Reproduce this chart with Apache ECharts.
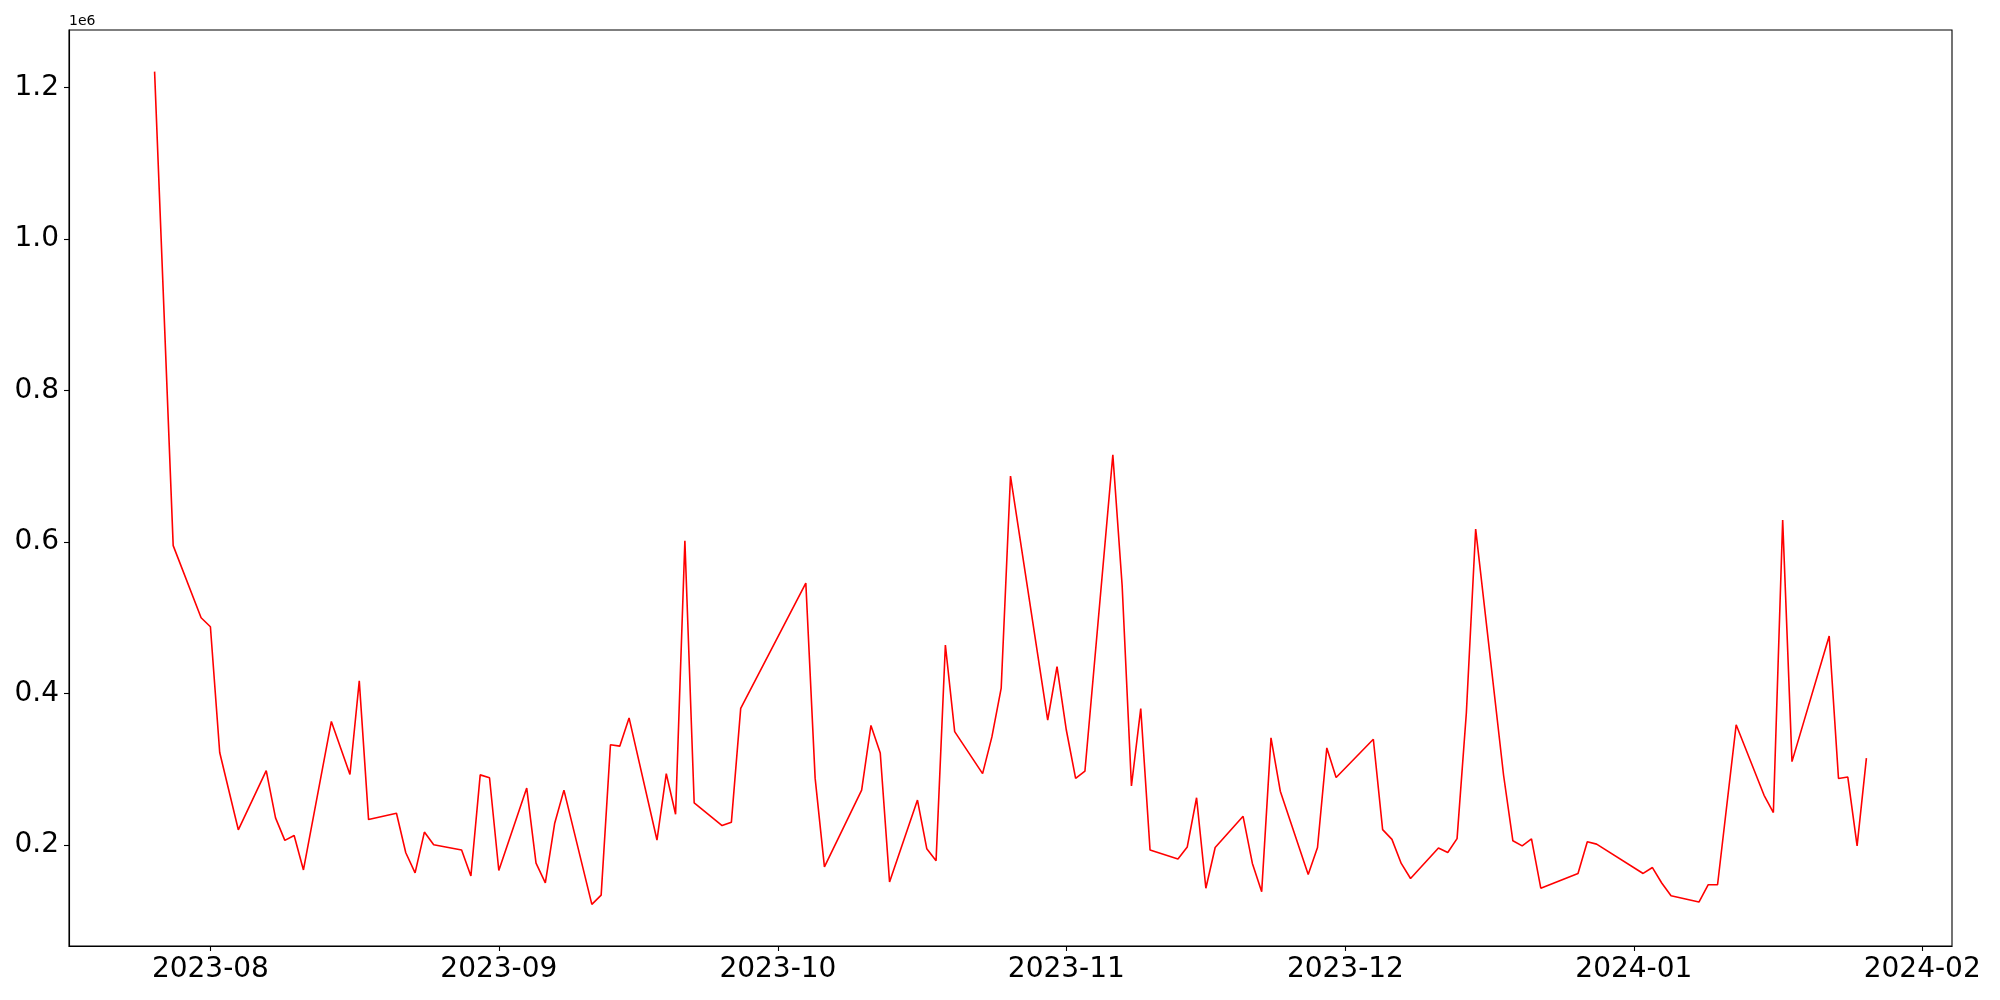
<!DOCTYPE html>
<html>
<head>
<meta charset="utf-8">
<script src="https://cdn.jsdelivr.net/npm/echarts@6/dist/echarts.min.js"></script>
<style>html,body{margin:0;padding:0;background:#fff}#c{width:2000px;height:1000px}</style>
</head>
<body>
<div id="c"></div>
<script>
const dates = [
 '2023-07-26','2023-07-28','2023-07-31','2023-08-01','2023-08-02','2023-08-04',
 '2023-08-07','2023-08-08','2023-08-09','2023-08-10','2023-08-11',
 '2023-08-14','2023-08-16','2023-08-17','2023-08-18',
 '2023-08-21','2023-08-22','2023-08-23','2023-08-24','2023-08-25',
 '2023-08-28','2023-08-29','2023-08-30','2023-08-31','2023-09-01',
 '2023-09-04','2023-09-05','2023-09-06','2023-09-07','2023-09-08',
 '2023-09-11','2023-09-12','2023-09-13','2023-09-14','2023-09-15',
 '2023-09-18','2023-09-19','2023-09-20','2023-09-21','2023-09-22',
 '2023-09-25','2023-09-26','2023-09-27',
 '2023-10-04','2023-10-05','2023-10-06',
 '2023-10-10','2023-10-11','2023-10-12','2023-10-13',
 '2023-10-16','2023-10-17','2023-10-18','2023-10-19','2023-10-20',
 '2023-10-23','2023-10-24','2023-10-25','2023-10-26',
 '2023-10-30','2023-10-31','2023-11-01','2023-11-02','2023-11-03',
 '2023-11-06','2023-11-07','2023-11-08','2023-11-09','2023-11-10',
 '2023-11-13','2023-11-14','2023-11-15','2023-11-16','2023-11-17',
 '2023-11-20','2023-11-21','2023-11-22','2023-11-23','2023-11-24',
 '2023-11-27','2023-11-28','2023-11-29','2023-11-30',
 '2023-12-04','2023-12-05','2023-12-06','2023-12-07','2023-12-08',
 '2023-12-11','2023-12-12','2023-12-13','2023-12-14','2023-12-15',
 '2023-12-18','2023-12-19','2023-12-20','2023-12-21','2023-12-22',
 '2023-12-26','2023-12-27','2023-12-28',
 '2024-01-02','2024-01-03','2024-01-04','2024-01-05',
 '2024-01-08','2024-01-09','2024-01-10','2024-01-12',
 '2024-01-15','2024-01-16','2024-01-17','2024-01-18',
 '2024-01-22','2024-01-23','2024-01-24','2024-01-25','2024-01-26'
];
const values = [
 1220600, 595000, 499800, 488000, 322000, 220000,
 298000, 235800, 206000, 212400, 167000,
 363000, 293000, 416600, 233500,
 241800, 189700, 163200, 217000, 200300,
 193400, 159000, 292500, 288700, 166300,
 275100, 176000, 150000, 228300, 272400,
 121600, 133800, 332200, 330400, 367700,
 206500, 294100, 240500, 601400, 255500,
 225600, 230100, 380300,
 545700, 288200, 171100,
 272400, 357700, 321400, 151100,
 259200, 195100, 179300, 463900, 349500,
 294100, 342600, 407100, 686900,
 364900, 435300, 351700, 287800, 297300,
 715000, 542400, 277800, 380000, 193300,
 181500, 197400, 262300, 142900, 196600,
 237800, 175600, 138400, 341300, 270900,
 161100, 196600, 328100, 289100,
 339500, 220200, 207400, 175600, 155700,
 196000, 190100, 208300, 374400, 616900,
 292000, 205500, 198800, 207900, 142900,
 162400, 204200, 201100,
 162400, 170200, 149800, 132900,
 124700, 147500, 147500, 358600,
 265500, 242800, 628700, 310000,
 475700, 287800, 289600, 198800, 314600
];
const xTickLabels = ['2023-08','2023-09','2023-10','2023-11','2023-12','2024-01','2024-02'];
const yTickValues = [200000, 400000, 600000, 800000, 1000000, 1200000];
const yTickLabels = ['0.2','0.4','0.6','0.8','1.0','1.2'];
const yOffsetText = '1e6';

function ts(s){ const p = s.split('-').map(Number); return Date.UTC(p[0], p[1]-1, p[2] || 1); }
const data = dates.map((d,i)=>[ts(d), values[i]]);
const xs = data.map(d=>d[0]);
const xMin0 = Math.min(...xs), xMax0 = Math.max(...xs);
const xPad = (xMax0 - xMin0) * 0.05;
const yMin0 = Math.min(...values), yMax0 = Math.max(...values);
const yPad = (yMax0 - yMin0) * 0.05;
const xTickValues = xTickLabels.map(ts);

const FONT = 'DejaVu Sans';
const chart = echarts.init(document.getElementById('c'), null, {renderer:'canvas'});
chart.setOption({
  animation: false,
  backgroundColor: '#fff',
  grid: { left: 69, right: 48, top: 30, bottom: 54, show: true, borderColor: '#000', borderWidth: 1.1, containLabel: false },
  xAxis: {
    type: 'value',
    min: xMin0 - xPad, max: xMax0 + xPad,
    axisLine: { show: true, onZero: false, lineStyle: { color: '#000', width: 1.1 } },
    axisTick: { show: true, length: 5, lineStyle: { color: '#000', width: 1.1 }, customValues: xTickValues },
    axisLabel: {
      customValues: xTickValues, color: '#000', fontSize: 28, fontFamily: FONT, margin: 10,
      showMinLabel: true, showMaxLabel: true,
      formatter: v => { const i = xTickValues.indexOf(v); return i >= 0 ? xTickLabels[i] : ''; }
    },
    splitLine: { show: false }, minorTick: { show: false }
  },
  yAxis: {
    type: 'value',
    min: yMin0 - yPad, max: yMax0 + yPad,
    axisLine: { show: true, onZero: false, lineStyle: { color: '#000', width: 1.1 } },
    axisTick: { show: true, length: 5, lineStyle: { color: '#000', width: 1.1 }, customValues: yTickValues },
    axisLabel: {
      customValues: yTickValues, color: '#000', fontSize: 28, fontFamily: FONT, margin: 10,
      formatter: v => { const i = yTickValues.indexOf(v); return i >= 0 ? yTickLabels[i] : ''; }
    },
    splitLine: { show: false }
  },
  graphic: [{
    type: 'text', left: 69, top: 14,
    style: { text: yOffsetText, fill: '#000', font: '14px "DejaVu Sans"' }
  }],
  series: [{
    type: 'line', data: data, showSymbol: false, symbol: 'none',
    lineStyle: { color: '#ff0000', width: 1.6 }, itemStyle: { color: '#ff0000' }
  }]
});
</script>
</body>
</html>
